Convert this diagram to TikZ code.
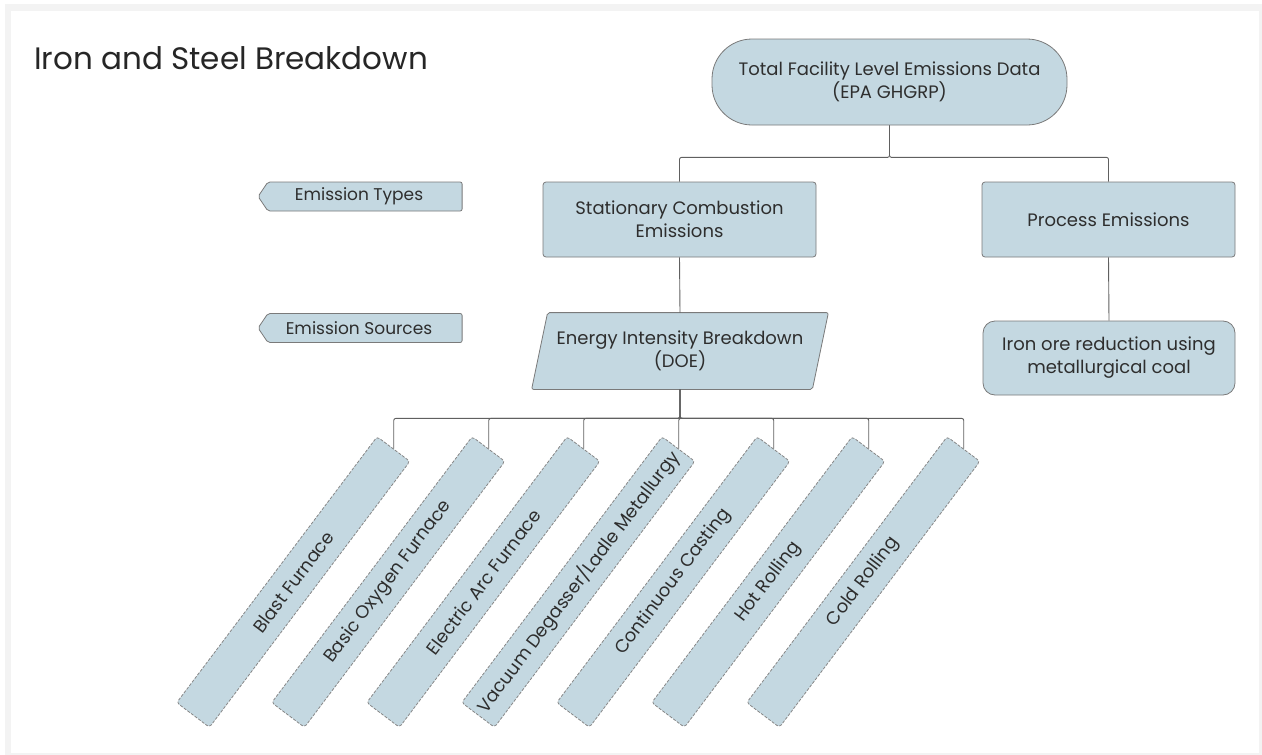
\documentclass[tikz,border=0pt]{standalone}
\usepackage{fontspec}
\setmainfont{Poppins}
\usetikzlibrary{shapes.symbols,backgrounds}
\definecolor{boxfill}{HTML}{C4D8E1}
\definecolor{boxline}{HTML}{7A7A7A}
\definecolor{txt}{HTML}{2E2E2E}
\definecolor{conn}{HTML}{606060}
\definecolor{frame}{HTML}{F3F3F3}
\tikzset{
  base/.style={fill=boxfill,draw=boxline,line width=0.8pt,text=txt,font=\fontsize{18}{23}\selectfont,align=center,inner sep=0pt},
  pill/.style={base,rounded corners=40pt,minimum width=355pt,minimum height=86pt},
  rectbox/.style={base,rounded corners=3pt},
  tagbox/.style={base,font=\fontsize{17}{20}\selectfont,shape=signal,signal to=west,signal pointer angle=112,minimum width=204pt,minimum height=29pt,rounded corners=2pt},
  slantbox/.style={base,draw=boxline!90,dashed,dash pattern=on 3pt off 1.5pt,rounded corners=3pt,rotate=53,minimum width=333pt,minimum height=41pt},
  conline/.style={draw=conn,line width=0.9pt,rounded corners=2pt},
}
\begin{document}
\begin{tikzpicture}[x=1pt,y=-1pt]
\useasboundingbox (0,0) rectangle (1262,755);

\node[anchor=base west,text=black!85,font=\fontsize{31}{36}\selectfont,inner sep=0pt] (title) at (34,69) {Iron and Steel Breakdown};

\node[pill] (top) at (889.5,82) {Total Facility Level Emissions Data\\(EPA GHGRP)};
\node[rectbox,minimum width=273pt,minimum height=75pt] (stat) at (679.5,219.5) {Stationary Combustion\\Emissions};
\node[rectbox,minimum width=253pt,minimum height=75pt] (proc) at (1108.5,219.5) {Process Emissions};
\node[tagbox] (types) at (365,196.5) {\kern-12pt Emission Types};
\node[tagbox] (sources) at (365,328) {\kern-12pt Emission Sources};
\node[base,fill=none,draw=none,minimum width=280pt,minimum height=76pt] (energy) at (680,351) {Energy Intensity Breakdown\\(DOE)};
\begin{pgfonlayer}{background}
\fill[white] (0,0) rectangle (1262,755);
\fill[frame] (5,4) rectangle (1262,755);
\fill[white] (11,11) rectangle (1259,753);
\path[fill=boxfill,draw=boxline,line width=0.8pt,rounded corners=2pt]
  ([xshift=8pt]energy.north west) -- ([xshift=8pt]energy.north east) --
  ([xshift=-8pt]energy.south east) -- ([xshift=-8pt]energy.south west) -- cycle;
\end{pgfonlayer}
\node[rectbox,rounded corners=12pt,minimum width=252pt,minimum height=74pt] (ore) at (1109,358) {Iron ore reduction using\\metallurgical coal};

\node[slantbox] (s1) at (293.3,582) {Blast Furnace};
\node[slantbox] (s2) at (388.3,582) {Basic Oxygen Furnace};
\node[slantbox] (s3) at (483.3,582) {Electric Arc Furnace};
\node[slantbox] (s4) at (578.3,582) {Vacuum Degasser/Ladle Metallurgy};
\node[slantbox] (s5) at (673.3,582) {Continuous Casting};
\node[slantbox] (s6) at (768.3,582) {Hot Rolling};
\node[slantbox] (s7) at (863.3,582) {Cold Rolling};

\draw[conline] (top.south) -- ++(0,32) -| (stat.north);
\draw[conline] (top.south) -- ++(0,32) -| (proc.north);
\draw[conline] (stat.south) -- (energy.north);
\draw[conline] (proc.south) -- (ore.north);
\foreach \i in {1,...,7}{
  \draw[conline] (energy.south) -- ++(0,29) -| (s\i.east);
}
\end{tikzpicture}
\end{document}
